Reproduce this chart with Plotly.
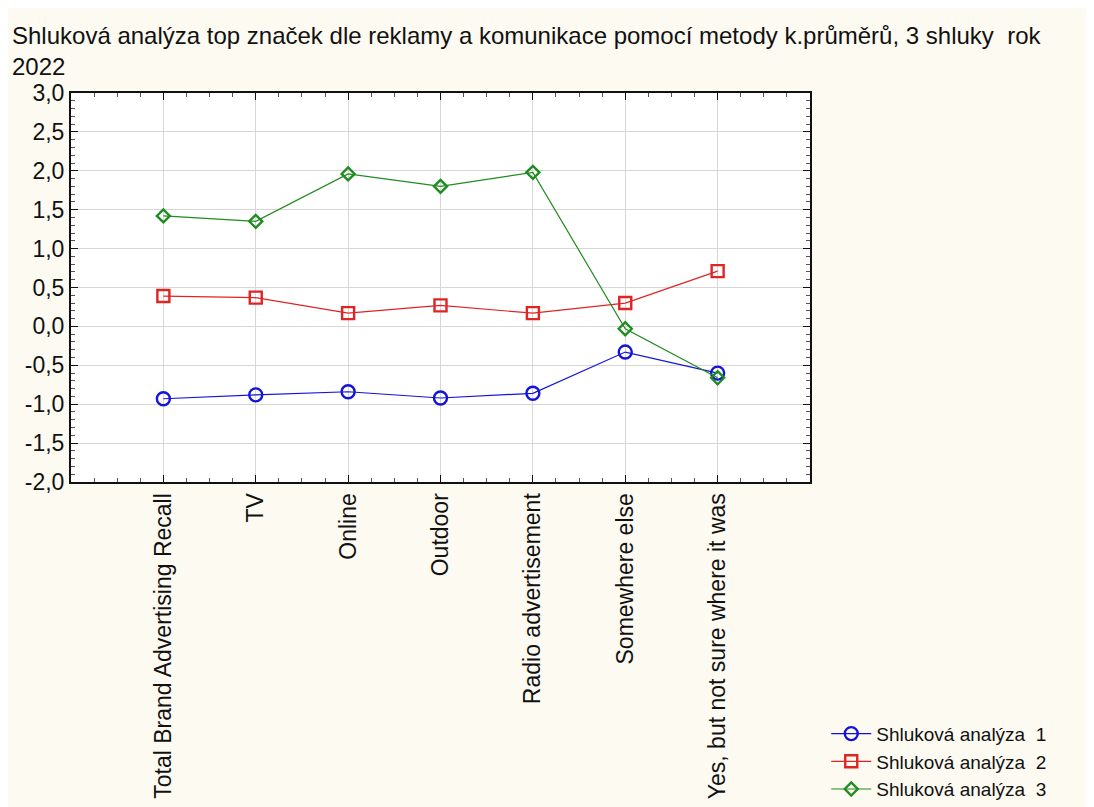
import plotly.graph_objects as go

# categories (x axis)
categories = ["Total Brand Advertising Recall", "TV", "Online", "Outdoor",
              "Radio advertisement", "Somewhere else", "Yes, but not sure where it was"]

# cluster means
shluk_1 = [-0.93, -0.88, -0.84, -0.92, -0.86, -0.33, -0.60]
shluk_2 = [0.39, 0.37, 0.17, 0.27, 0.17, 0.30, 0.71]
shluk_3 = [1.42, 1.35, 1.96, 1.80, 1.98, -0.03, -0.66]

y_ticks = [3.0, 2.5, 2.0, 1.5, 1.0, 0.5, 0.0, -0.5, -1.0, -1.5, -2.0]
y_ticktext = ["3,0", "2,5", "2,0", "1,5", "1,0", "0,5", "0,0", "-0,5", "-1,0", "-1,5", "-2,0"]

names = ["Shluková analýza  1", "Shluková analýza  2", "Shluková analýza  3"]
colors = ["#1414d8", "#e02424", "#1f8c1f"]
symbols = ["circle-open", "square-open", "diamond-open"]
sizes = [13, 12, 10]

x_pos = list(range(len(categories)))

fig = go.Figure()
for vals, name, col, sym, sz in zip([shluk_1, shluk_2, shluk_3], names, colors, symbols, sizes):
    fig.add_trace(go.Scatter(
        x=x_pos, y=vals, name=name, mode="lines+markers",
        line=dict(color=col, width=1.2),
        marker=dict(symbol=sym, size=sz, color=col, line=dict(color=col, width=2.4)),
    ))

# page body has an 8px margin, so the figure is a bit smaller than the window
fig.update_layout(
    width=1086, height=799,
    margin=dict(l=63, r=284, t=85, b=325, autoexpand=False),
    paper_bgcolor="#fdfaf1",
    plot_bgcolor="white",
    font=dict(family="Liberation Sans, Arial, sans-serif", size=18, color="#111111"),
    title=dict(
        text="Shluková analýza top značek dle reklamy a komunikace pomocí metody k.průměrů, 3 shluky  rok<br>2022",
        x=4 / 1086, xref="container", xanchor="left",
        y=1 - 36 / 799, yref="container", yanchor="top",
        font=dict(family="Liberation Sans, Arial, sans-serif", size=24, color="#111111"),
    ),
    legend=dict(
        x=1.022, xanchor="left", y=-0.84, yanchor="bottom",
        bgcolor="rgba(0,0,0,0)", tracegroupgap=0,
        font=dict(size=19), itemwidth=40,
    ),
    showlegend=True,
)

fig.update_xaxes(
    range=[-1, 7],
    tickmode="array", tickvals=x_pos, ticktext=categories, tickangle=-90,
    showgrid=True, gridcolor="#d6d6d6", gridwidth=1,
    showline=True, linecolor="#111111", linewidth=2, mirror="ticks",
    ticks="inside", ticklen=7, tickcolor="#111111",
    minor=dict(dtick=0.25, tick0=0, ticks="inside", ticklen=4, tickcolor="#555555", showgrid=False),
    zeroline=False, tickfont=dict(size=23),
)
fig.update_yaxes(
    range=[-2, 3],
    tickmode="array", tickvals=y_ticks, ticktext=y_ticktext,
    showgrid=True, gridcolor="#d6d6d6", gridwidth=1,
    showline=True, linecolor="#111111", linewidth=2, mirror="ticks",
    ticks="inside", ticklen=7, tickcolor="#111111",
    minor=dict(dtick=0.1, tick0=0, ticks="inside", ticklen=4, tickcolor="#555555", showgrid=False),
    zeroline=False, tickfont=dict(size=23),
)

fig.write_html("out.html")
